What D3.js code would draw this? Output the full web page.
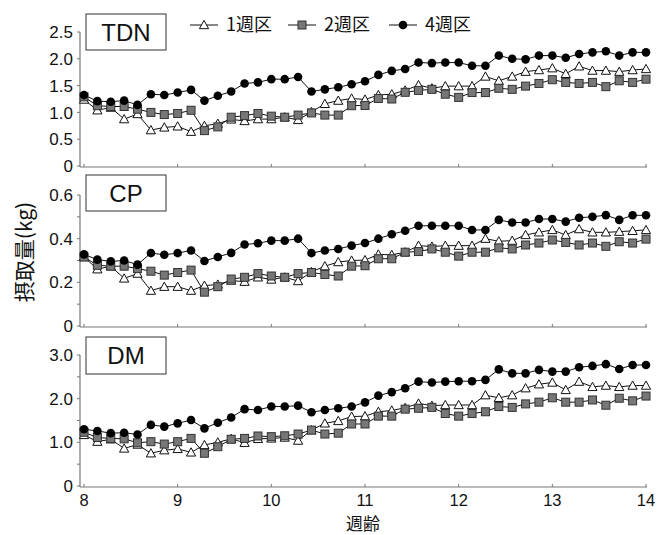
<!DOCTYPE html>
<html><head><meta charset="utf-8">
<script src="https://cdn.jsdelivr.net/npm/d3@7"></script>
<style>
html,body{margin:0;padding:0;background:#fff;}
svg{display:block;}
text{font-family:"Liberation Sans",Arial,"Noto Sans CJK JP",sans-serif;fill:#111;}
.cjk{font-family:"Noto Sans CJK JP","Noto Sans CJK SC",sans-serif;}
</style>
</head><body>
<svg id="c" width="659" height="535"></svg>
<script>
// Day index of each measurement (0..42), age in weeks = 8 + day/7
const days = d3.range(43);
const seriesNames = ["1週区", "2週区", "4週区"];
const panelNames = ["TDN", "CP", "DM"];

const tdn1 = [1.24,1.04,1.09,0.875,0.97,0.67,0.72,0.74,0.64,0.75,0.79,0.87,0.84,0.875,0.875,0.91,0.86,1.01,1.16,1.22,1.26,1.24,
  1.325,1.34,1.41,1.51,1.45,1.49,1.49,1.49,1.67,1.59,1.67,1.76,1.79,1.825,1.72,1.86,1.78,1.78,1.76,1.79,1.81];
const tdn2 = [1.29,1.125,1.11,1.11,1.06,1.00,0.96,0.98,1.04,0.66,0.73,0.91,0.94,0.98,0.93,0.91,0.95,0.99,0.95,0.95,1.125,1.13,
  1.26,1.25,1.375,1.41,1.43,1.34,1.28,1.37,1.37,1.45,1.43,1.49,1.54,1.61,1.56,1.54,1.56,1.48,1.59,1.56,1.62];
const tdn4 = [1.325,1.21,1.20,1.22,1.14,1.34,1.325,1.37,1.42,1.22,1.31,1.39,1.54,1.56,1.62,1.62,1.66,1.39,1.43,1.47,1.525,1.58,
  1.70,1.775,1.81,1.93,1.92,1.93,1.93,1.87,1.87,2.06,2.00,1.99,2.06,2.06,2.02,2.09,2.12,2.14,2.06,2.12,2.12];

const cp1 = [0.316,0.26,0.274,0.218,0.24,0.162,0.18,0.18,0.162,0.185,0.19,0.208,0.203,0.223,0.213,0.223,0.206,0.248,0.274,0.293,0.30,0.302,
  0.328,0.326,0.338,0.368,0.364,0.368,0.368,0.368,0.40,0.388,0.391,0.417,0.429,0.44,0.417,0.444,0.429,0.429,0.432,0.436,0.44];
const cp2 = [0.316,0.278,0.274,0.274,0.263,0.251,0.233,0.245,0.256,0.155,0.18,0.215,0.223,0.24,0.229,0.223,0.24,0.245,0.236,0.229,0.274,0.276,
  0.308,0.308,0.338,0.341,0.353,0.338,0.32,0.338,0.338,0.358,0.353,0.371,0.38,0.394,0.383,0.371,0.38,0.365,0.386,0.38,0.398];
const cp4 = [0.328,0.304,0.296,0.30,0.281,0.334,0.326,0.334,0.346,0.298,0.316,0.335,0.373,0.379,0.391,0.391,0.40,0.334,0.346,0.353,0.368,0.38,
  0.40,0.42,0.436,0.459,0.459,0.459,0.459,0.44,0.44,0.486,0.474,0.474,0.49,0.49,0.478,0.496,0.50,0.508,0.486,0.507,0.507];

const dm1 = [1.17,1.015,1.07,0.86,0.95,0.75,0.82,0.85,0.77,0.94,1.00,1.08,0.99,1.08,1.09,1.11,1.04,1.28,1.435,1.49,1.59,1.60,
  1.70,1.73,1.79,1.89,1.84,1.855,1.855,1.855,2.08,2.02,2.08,2.24,2.33,2.37,2.20,2.39,2.27,2.30,2.27,2.30,2.30];
const dm2 = [1.23,1.11,1.09,1.08,0.99,1.015,0.96,1.015,1.09,0.75,0.90,1.07,1.09,1.145,1.13,1.15,1.19,1.28,1.19,1.21,1.42,1.42,
  1.60,1.60,1.76,1.78,1.80,1.66,1.60,1.66,1.70,1.82,1.80,1.88,1.92,2.02,1.92,1.92,1.97,1.85,2.01,1.95,2.06];
const dm4 = [1.30,1.26,1.21,1.22,1.18,1.40,1.36,1.435,1.51,1.32,1.45,1.57,1.76,1.74,1.82,1.82,1.84,1.69,1.74,1.78,1.82,1.915,
  2.07,2.15,2.24,2.39,2.37,2.39,2.40,2.40,2.43,2.67,2.58,2.58,2.66,2.62,2.62,2.72,2.75,2.79,2.68,2.77,2.77];

const xTicks = [8, 9, 10, 11, 12, 13, 14];
const tdnTicks = [0, 0.5, 1.0, 1.5, 2.0, 2.5];
const cpTicks = [0, 0.1, 0.2, 0.3, 0.4, 0.5, 0.6];
const dmTicks = [0, 0.5, 1.0, 1.5, 2.0, 2.5, 3.0];

const panels = [
  {name: panelNames[0], data: [tdn1, tdn2, tdn4], max: 2.5, ticks: tdnTicks, labelEvery: 1,
   fmt: v => v === 0 ? "0" : d3.format(".1f")(v), y0: 166, y1: 32, box: [86, 14, 80, 36]},
  {name: panelNames[1], data: [cp1, cp2, cp4], max: 0.6, ticks: cpTicks, labelEvery: 2,
   fmt: v => v === 0 ? "0" : d3.format(".1f")(v), y0: 326, y1: 195, box: [86, 175, 80, 36]},
  {name: panelNames[2], data: [dm1, dm2, dm4], max: 3.0, ticks: dmTicks, labelEvery: 2,
   fmt: v => v === 0 ? "0" : d3.format(".1f")(v), y0: 486, y1: 355, box: [86, 337, 80, 37]}
];

const svg = d3.select("#c");
const x = d3.scaleLinear().domain([8, 14]).range([84, 646]);
const axisX0 = 80, axisX1 = 647;
const axisColor = "#777";

function drawMarker(g, type, cx, cy) {
  if (type === 0) {
    const s = 4.6;
    g.append("path")
      .attr("d", `M${cx},${cy - s}L${cx + s},${cy + s * 0.8}L${cx - s},${cy + s * 0.8}Z`)
      .attr("fill", "#fff").attr("stroke", "#111").attr("stroke-width", 1);
  } else if (type === 1) {
    const s = 4;
    g.append("rect").attr("x", cx - s).attr("y", cy - s).attr("width", 2 * s).attr("height", 2 * s)
      .attr("fill", "#777").attr("stroke", "#333").attr("stroke-width", 1);
  } else {
    g.append("circle").attr("cx", cx).attr("cy", cy).attr("r", 4.3).attr("fill", "#000");
  }
}

panels.forEach((p, pi) => {
  const y = d3.scaleLinear().domain([0, p.max]).range([p.y0, p.y1]);
  const g = svg.append("g");
  g.append("line").attr("x1", axisX0).attr("x2", axisX0).attr("y1", p.y1).attr("y2", p.y0 + 1)
    .attr("stroke", axisColor).attr("stroke-width", 1.2);
  g.append("line").attr("x1", axisX0).attr("x2", axisX1).attr("y1", p.y0 + 1).attr("y2", p.y0 + 1)
    .attr("stroke", axisColor).attr("stroke-width", 1.2);
  p.ticks.forEach((t, i) => {
    const yy = y(t);
    g.append("line").attr("x1", axisX0 - 3).attr("x2", axisX0).attr("y1", yy).attr("y2", yy)
      .attr("stroke", axisColor).attr("stroke-width", 1);
    if (i % p.labelEvery === 0) {
      g.append("text").attr("x", axisX0 - 7).attr("y", yy).attr("dy", "0.36em")
        .attr("text-anchor", "end").attr("font-size", 17).text(p.fmt(t));
    }
  });
  xTicks.forEach(t => {
    g.append("line").attr("x1", x(t)).attr("x2", x(t)).attr("y1", p.y0 + 1).attr("y2", p.y0 - 2)
      .attr("stroke", axisColor).attr("stroke-width", 1);
    if (pi === 2) {
      g.append("text").attr("x", x(t)).attr("y", 506).attr("text-anchor", "middle")
        .attr("font-size", 16.5).text(t);
    }
  });
  const line = d3.line().x((d, i) => x(8 + days[i] / 7)).y(d => y(d));
  p.data.forEach((arr) => {
    g.append("path").attr("d", line(arr)).attr("fill", "none").attr("stroke", "#111").attr("stroke-width", 1);
  });
  p.data.forEach((arr, si) => {
    arr.forEach((v, i) => drawMarker(g, si, x(8 + days[i] / 7), y(v)));
  });
  const [bx, by, bw, bh] = p.box;
  g.append("rect").attr("x", bx).attr("y", by).attr("width", bw).attr("height", bh)
    .attr("fill", "#fff").attr("stroke", "#333").attr("stroke-width", 1);
  g.append("text").attr("x", bx + bw / 2).attr("y", by + bh / 2).attr("dy", "0.36em")
    .attr("text-anchor", "middle").attr("font-size", 24).text(p.name);
});

// legend
const legX = [190, 288, 389];
seriesNames.forEach((n, si) => {
  const lx = legX[si], ly = 25;
  const g = svg.append("g");
  g.append("line").attr("x1", lx).attr("x2", lx + 28).attr("y1", ly).attr("y2", ly)
    .attr("stroke", "#111").attr("stroke-width", 1);
  drawMarker(g, si, lx + 14, ly);
  g.append("text").attr("class", "cjk").attr("x", lx + 36).attr("y", ly).attr("dy", "0.36em")
    .attr("font-size", 18).text(n);
});

// axis titles
svg.append("text").attr("class", "cjk").attr("x", 363).attr("y", 530).attr("text-anchor", "middle")
  .attr("font-size", 17).text("週齢");
svg.append("text").attr("class", "cjk").attr("transform", "translate(32,252) rotate(-90)")
  .attr("text-anchor", "middle").attr("font-size", 21).text("摂取量(kg)");
</script>
</body></html>
